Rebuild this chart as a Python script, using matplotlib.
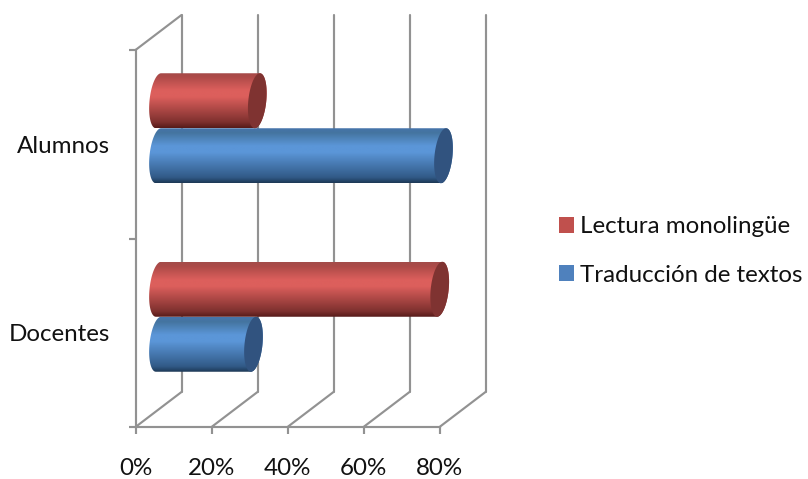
import numpy as np
import matplotlib
matplotlib.use("Agg")
import matplotlib.pyplot as plt
from matplotlib.patches import PathPatch, Patch
from matplotlib.path import Path
from matplotlib.colors import LinearSegmentedColormap

plt.rcParams["font.family"] = ["Lato", "DejaVu Sans"]

# Survey results, percent per group
categories = ["Docentes", "Alumnos"]
series_names = ["Lectura monolingüe", "Traducción de textos"]
lectura = [74, 26]
traduccion = [25, 75]
x_ticks = [0, 20, 40, 60, 80]

W, H = 808, 479
GRID = "#929292"
TEXT = "#111111"
LW = 1.55
FS = 17.4

fig = plt.figure(figsize=(W / 100, H / 100), dpi=100)
ax = fig.add_axes([0, 0, 1, 1])

# Scales: 3.8 px per percent, 188.5 px per category band
PX_X, PX_Y = 3.8, 188.5
X0, Y0 = 135.5, 427.0
ax.set_xlim(-X0 / PX_X, (W - X0) / PX_X)
ax.set_ylim((Y0 - H) / PX_Y, Y0 / PX_Y)

# Oblique depth of the 3D box, in data units
DX, DY = 46 / PX_X, 35 / PX_Y
Y_TOP = 2.0

for side in ("top", "right"):
    ax.spines[side].set_visible(False)
for side in ("left", "bottom"):
    ax.spines[side].set_color(GRID)
    ax.spines[side].set_linewidth(LW)
ax.spines["bottom"].set_position(("data", 0))
ax.spines["left"].set_position(("data", 0))
ax.spines["bottom"].set_bounds(0, 80)
ax.spines["left"].set_bounds(0, Y_TOP)

ax.set_xticks(x_ticks)
ax.set_xticklabels([f"{v}%" for v in x_ticks], fontsize=FS, color=TEXT)
ax.tick_params(axis="x", length=5, width=LW, color=GRID, pad=17)
ax.set_yticks([0, 1, 2])
ax.set_yticklabels([])
ax.tick_params(axis="y", length=5, width=LW, color=GRID)
ax.set_yticks([0.5, 1.5], minor=True)
ax.set_yticklabels(categories, minor=True, fontsize=FS, color=TEXT)
ax.tick_params(axis="y", which="minor", length=0, pad=18)

# Back wall and floor lines
for v in x_ticks:
    ax.plot([v + DX, v + DX], [DY, Y_TOP + DY], color=GRID, lw=LW, zorder=1,
            solid_capstyle="round")
    ax.plot([v, v + DX], [0, DY], color=GRID, lw=LW, zorder=1,
            solid_capstyle="round")
ax.plot([0, DX], [Y_TOP, Y_TOP + DY], color=GRID, lw=LW, zorder=1,
        solid_capstyle="round")


def make_cmap(stops):
    return LinearSegmentedColormap.from_list("shade", stops)


RED = make_cmap([(0.0, "#561a19"), (0.10, "#7d302e"), (0.56, "#dc5f5c"),
                 (0.68, "#dc5f5c"), (0.92, "#ad4a48"), (1.0, "#a34c4a")])
BLUE = make_cmap([(0.0, "#1d3856"), (0.10, "#315a87"), (0.56, "#5b96d8"),
                  (0.68, "#5b96d8"), (0.92, "#44749f"), (1.0, "#4674ab")])
RED_CAP, BLUE_CAP = "#7f3331", "#31537f"

BAR_H = 55 / PX_Y
A = 9.0 / PX_X      # horizontal radius of the end ellipse
S = 2.6 / PX_X      # lean of the end ellipse
START = DX / 2


def ellipse_pts(cx, cy, t):
    return np.column_stack([cx + A * np.cos(t) + S * np.sin(t),
                            cy + BAR_H / 2 * np.sin(t)])


def cylinder(value, yc, cmap, cap, z):
    x_base, x_end = START, value + START
    t_left = np.linspace(np.pi / 2, 3 * np.pi / 2, 60)
    t_right = np.linspace(-np.pi / 2, np.pi / 2, 60)
    outline = np.vstack([ellipse_pts(x_base, yc, t_left),
                         ellipse_pts(x_end, yc, t_right)])
    body = PathPatch(Path(np.vstack([outline, outline[:1]])),
                     fc="none", ec="none", transform=ax.transData)
    ax.add_patch(body)
    grad = np.linspace(0, 1, 128).reshape(-1, 1)
    im = ax.imshow(grad, cmap=cmap, origin="lower", aspect="auto",
                   interpolation="bilinear", zorder=z,
                   extent=(x_base - 2 * A, x_end + 2 * A,
                           yc - BAR_H / 2, yc + BAR_H / 2))
    im.set_clip_path(body)
    t = np.linspace(0, 2 * np.pi, 120)
    ax.fill(*ellipse_pts(x_end, yc, t).T, color=cap, lw=0, zorder=z + 0.1)


centre = DY / 2 - 1.5 / PX_Y
for i, (lec, tra) in enumerate(zip(lectura, traduccion)):
    base = i + 0.5 + centre
    z = 3 + (1 - i) * 2
    cylinder(tra, base - BAR_H / 2, BLUE, BLUE_CAP, z)
    cylinder(lec, base + BAR_H / 2, RED, RED_CAP, z + 1)

# imshow resets the limits
ax.set_xlim(-X0 / PX_X, (W - X0) / PX_X)
ax.set_ylim((Y0 - H) / PX_Y, Y0 / PX_Y)

handles = [Patch(fc="#c0504d", ec="none"), Patch(fc="#4f81bd", ec="none")]
ax.legend(handles, series_names, loc="center left",
          bbox_to_anchor=(559 / W, 1 - 251 / H), frameon=False,
          fontsize=FS, labelcolor=TEXT, handlelength=0.62, handleheight=0.62,
          handletextpad=0.26, labelspacing=1.12, borderpad=0, borderaxespad=0)

fig.savefig("out.png", dpi=100, facecolor="white")
